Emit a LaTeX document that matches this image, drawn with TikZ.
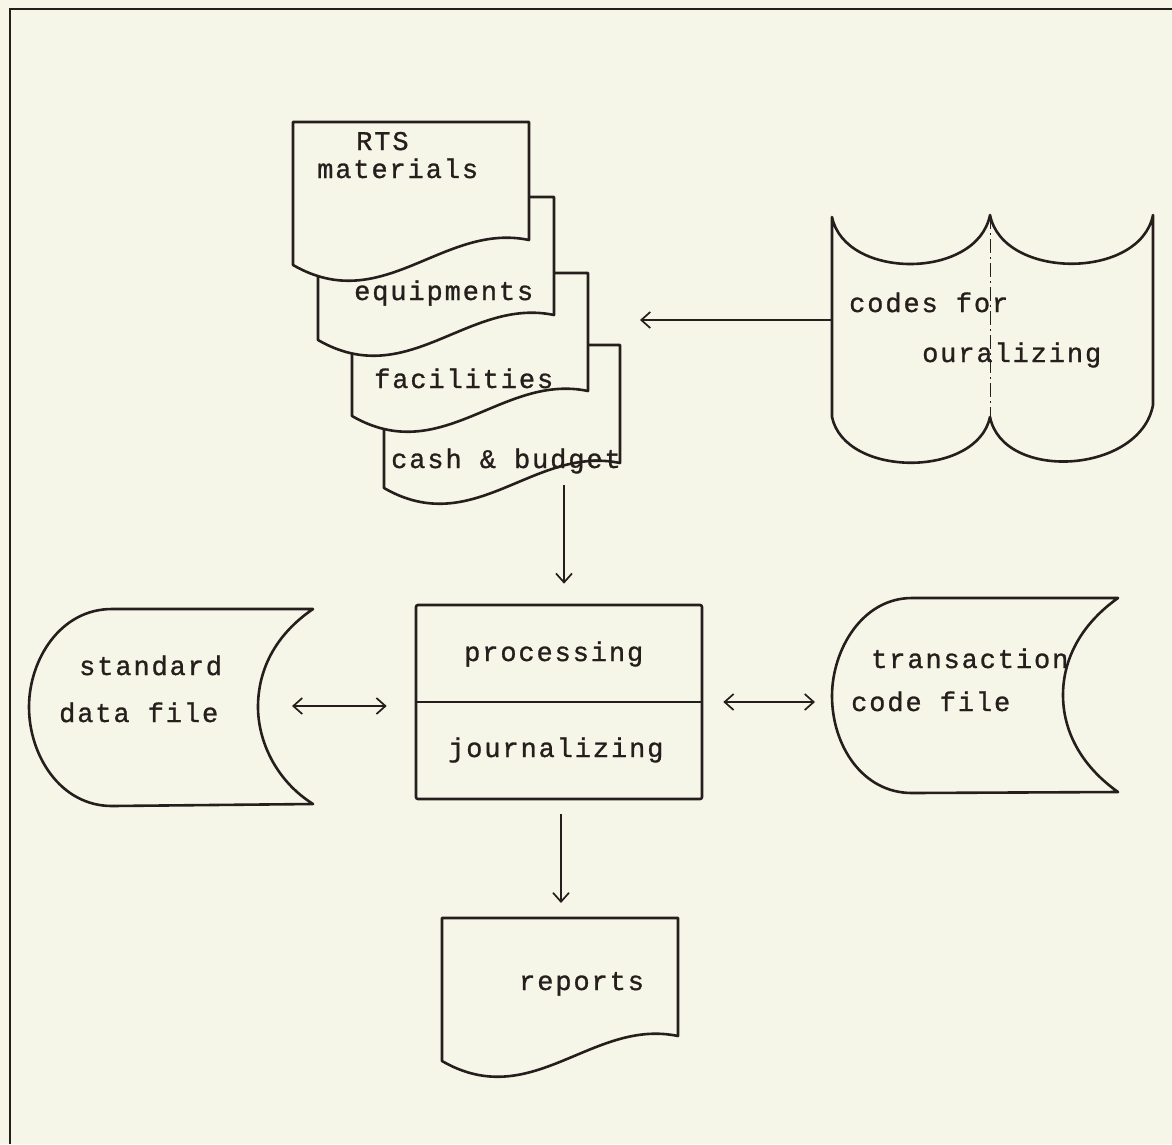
\documentclass[tikz,border=0pt]{standalone}
\usepackage{fontspec}
\setmonofont{Liberation Mono}[LetterSpace=7,FakeBold=1]
\usetikzlibrary{arrows.meta}
\definecolor{paper}{RGB}{245,245,232}
\definecolor{ink}{RGB}{38,30,28}
\tikzset{
  shapeline/.style={draw=ink, line width=2.6pt, line join=round, fill=paper},
  lbl/.style={font=\ttfamily\fontsize{27}{32}\selectfont, text=ink, inner sep=0pt, anchor=base west},
  arr/.style={draw=ink, line width=1.7pt, -{Straight Barb[length=9pt,width=16pt,line width=1.7pt]}},
  dbl/.style={draw=ink, line width=1.7pt, {Straight Barb[length=9pt,width=16pt,line width=1.7pt]}-{Straight Barb[length=9pt,width=16pt,line width=1.7pt]}},
  docshape/.pic={\path[shapeline] (0,0) -- (236,0) -- (236,118) .. controls (150,100) and (90,195) .. (0,143) -- cycle;}
}
\begin{document}
\begin{tikzpicture}[x=1pt,y=-1pt]
\useasboundingbox (0,0) rectangle (1172,1144);
\fill[paper] (0,0) rectangle (1172,1144);
\draw[ink, line width=2.8pt] (1172,9) -- (10,9) -- (10,1144);

% document stack (back to front)
\pic at (384,345) {docshape};
\node[lbl] (cash) at (391,468) {cash \& budget};
\pic at (352,273) {docshape};
\node[lbl] (fac) at (374,388) {facilities};
\pic at (318,197) {docshape};
\node[lbl] (equ) at (354,300) {equipments};
\pic at (293,122) {docshape};
\node[lbl] (rts) at (356,150) {RTS};
\node[lbl] (mat) at (317,178) {materials};

% punched tape: codes for ouralizing
\path[shapeline] (832,217) .. controls (845,280) and (977,280) .. (990,215)
  .. controls (1003,280) and (1140,280) .. (1153,215) -- (1153,405)
  .. controls (1140,474) and (1003,482) .. (990,417)
  .. controls (977,478) and (845,478) .. (832,417) -- cycle;
\draw[ink, line width=0.9pt, dash pattern=on 14pt off 4pt on 2pt off 4pt] (990,215) -- (990,417);
\node[lbl] (codes) at (849,312) {codes for};
\node[lbl] (oural) at (922,362) {ouralizing};

% standard data file
\path[shapeline] (313,609) -- (112,609) .. controls (60,609) and (29,660) .. (29,707)
  .. controls (29,755) and (60,806) .. (112,806) -- (313,804)
  .. controls (275,780) and (258,740) .. (258,707)
  .. controls (258,670) and (275,635) .. (313,609) -- cycle;
\node[lbl] (std) at (79,675) {standard};
\node[lbl] (dat) at (59,722) {data file};

% processing box
\node[draw=ink, line width=2.6pt, rounded corners=2pt, minimum width=286pt, minimum height=194pt, inner sep=0pt] (proc) at (559,702) {};
\draw[ink, line width=2.6pt] (proc.west) -- (proc.east);
\node[lbl] (procT) at (464,661) {processing};
\node[lbl] (jour) at (448,757) {journalizing};

% transaction code file
\path[shapeline] (1118,598) -- (912,598) .. controls (862,598) and (832,650) .. (832,696)
  .. controls (832,745) and (862,793) .. (912,793) -- (1118,792)
  .. controls (1080,765) and (1063,730) .. (1063,695)
  .. controls (1063,660) and (1080,625) .. (1118,598) -- cycle;
\node[lbl] (trans) at (871,668) {transaction};
\node[lbl] (codef) at (851,711) {code file};

% reports
\pic at (442,918) {docshape};
\node[lbl] (rep) at (519,990) {reports};

% connector end points
\coordinate (codesL) at (832,320);
\coordinate (stackIn) at (640,320);
\coordinate (stackOut) at (564,485);
\coordinate (sdfR) at (258,706);
\coordinate (tcfL) at (832,702);
\coordinate (repTop) at (561,918);

% connectors
\draw[arr] (codesL) -- (stackIn);
\draw[arr, shorten >=20pt] (stackOut) -- (stackOut |- proc.north);
\draw[arr, shorten <=14pt, shorten >=15pt] (repTop |- proc.south) -- (repTop);
\draw[dbl, shorten <=34pt, shorten >=28pt] (sdfR) -- (sdfR -| proc.west);
\draw[dbl, shorten <=20pt, shorten >=17pt] (proc.east) -- (tcfL);
\end{tikzpicture}
\end{document}
